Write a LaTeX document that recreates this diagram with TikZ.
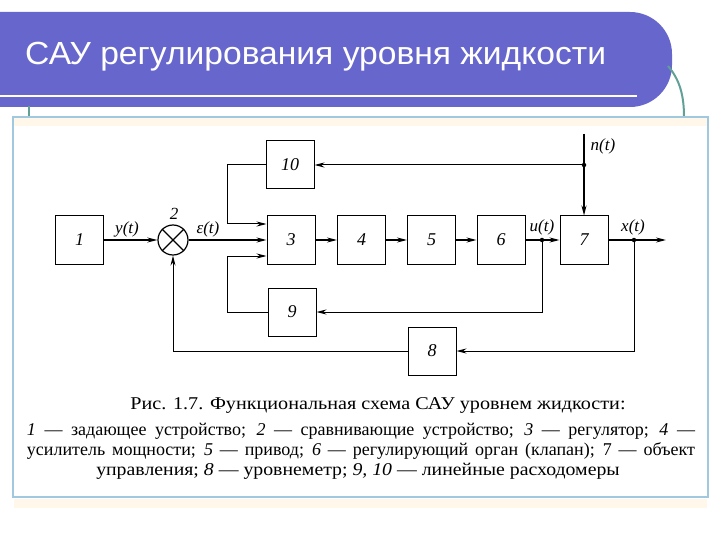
\documentclass[tikz,border=0pt]{standalone}
\usepackage{fontspec}
\setmainfont{Liberation Serif}
\newfontfamily\titlefont{Liberation Sans}
\usetikzlibrary{arrows.meta}
\definecolor{barblue}{RGB}{102,102,204}
\definecolor{tealc}{RGB}{96,160,150}
\definecolor{framec}{RGB}{160,200,222}
\definecolor{creamc}{RGB}{255,248,234}
\begin{document}
\begin{tikzpicture}[x=1pt,y=-1pt,
  blk/.style={draw, line width=1pt, minimum width=48pt, minimum height=48pt, inner sep=0pt, font=\fontsize{18}{18}\selectfont\itshape},
  fwd/.style={line width=1.4pt, -{Stealth[length=10pt,width=5pt]}},
  fb/.style={line width=1pt, -{Stealth[length=10pt,width=5pt]}},
  lbl/.style={font=\fontsize{17}{17}\selectfont\itshape, inner sep=0pt},
  dotc/.style={circle, fill, inner sep=0pt, minimum size=4.5pt},
  captxt/.style={inner sep=0pt, font=\fontsize{18}{18}\selectfont}]
\useasboundingbox (0,0) rectangle (720,540);
% title bar
\fill[barblue, rounded corners=42pt] (-60,12) rectangle (672,107);
\draw[white, line width=2.5pt] (0,96) -- (637,96);
\draw[tealc, line width=2pt] (668,66) .. controls (680,80) and (684,96) .. (684,117);
\draw[tealc, line width=2pt] (29,106) -- (29,117);
\node[anchor=base west, text=white, inner sep=0pt, font=\titlefont\fontsize{32}{32}\selectfont] (title) at (25,65) {\scalebox{1.05}[1]{САУ регулирования уровня жидкости}};
% frame
\draw[framec, line width=2pt, fill=white] (13,117) rectangle (708,497);
\fill[creamc] (14,118) rectangle (707,126);
\fill[creamc] (14,499) rectangle (707,508);
% blocks
\node[blk] (b1) at (79.5,240) {1};
\node[blk] (b3) at (291,240) {3};
\node[blk] (b10) at (290,165) {10};
\node[blk] (b9) at (292,312) {9};
\node[blk] (b4) at (361.5,240) {4};
\node[blk] (b5) at (431.5,240) {5};
\node[blk] (b6) at (501,240) {6};
\node[blk] (b7) at (584,240) {7};
\node[blk] (b8) at (432,351) {8};
\node[draw, circle, line width=1.2pt, minimum size=30pt, inner sep=0pt] (s2) at (173,240) {};
\draw[line width=1.2pt] (s2.north west) -- (s2.south east) (s2.north east) -- (s2.south west);
\node[lbl] (l2) at (174,214) {2};
% points
\coordinate (nt) at (584,134);
\node[dotc] (dn) at (584,165) {};
\node[dotc] (du) at (542,240) {};
\node[dotc] (dx) at (634,240) {};
\coordinate (out) at (666,240);
% forward path
\draw[fwd] (b1.east) -- (s2.west);
\draw[fwd] (s2.east) -- (b3.west);
\draw[fwd] (b3.east) -- (b4.west);
\draw[fwd] (b4.east) -- (b5.west);
\draw[fwd] (b5.east) -- (b6.west);
\draw[fwd] (b6.east) -- (b7.west);
\draw[fwd] (b7.east) -- (out);
\draw[fwd] (nt) -- (b7.north);
% feedback
\draw[fb] (dn) -- (b10.east);
\draw[fb] (b10.west) -- ++(-38,0) |- ([yshift=16pt]b3.west);
\draw[fb] (b9.west) -- ++(-40,0) |- ([yshift=-16pt]b3.west);
\draw[fb] (du) |- (b9.east);
\draw[fb] (dx) |- (b8.east);
\draw[fb] (b8.west) -| (s2.south);
% labels
\node[lbl] (ly) at (127,229) {y(t)};
\node[lbl] (le) at (208,229) {ε(t)};
\node[lbl] (lu) at (542,227) {u(t)};
\node[lbl] (lx) at (633,227) {x(t)};
\node[lbl] (ln) at (603,146) {n(t)};
% caption
\node[captxt] (cap1) at (378,405) {\scalebox{1.12}[1]{Рис. 1.7. Функциональная схема САУ уровнем жидкости:}};
\node[captxt] (cap2) at (361,431) {\makebox[668pt][s]{\textit{1} — задающее устройство; \textit{2} — сравнивающие устройство; \textit{3} — регулятор; \textit{4} —}};
\node[captxt] (cap3) at (361,451) {\makebox[668pt][s]{усилитель мощности; \textit{5} — привод; \textit{6} — регулирующий орган (клапан); 7 — объект}};
\node[captxt] (cap4) at (358,471) {\scalebox{1.1}[1]{управления; \textit{8} — уровнеметр; \textit{9, 10} — линейные расходомеры}};
\end{tikzpicture}
\end{document}
